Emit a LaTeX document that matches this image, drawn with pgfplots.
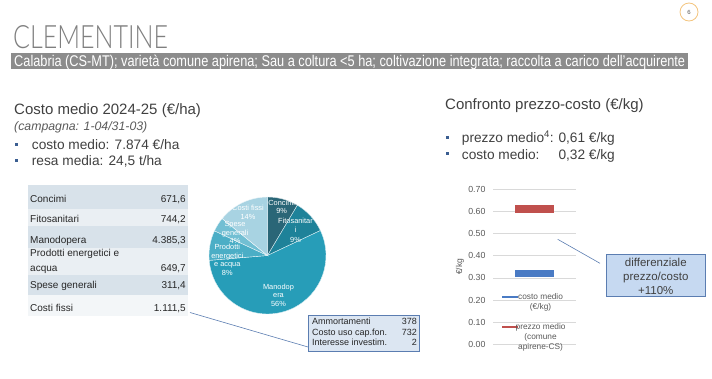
\documentclass[border=0pt]{standalone}
\usepackage{fontspec}
\setmainfont{Liberation Sans}
\newfontfamily\titlefont{Lato Light}
\usepackage{graphicx}
\usepackage{pgfplots}
\pgfplotsset{compat=1.18}
\pgfplotsset{
  blueleg/.style={legend image code/.code={\draw[##1, line width=2pt, overlay] (0pt,5pt) -- (16pt,5pt); \path[draw=none, fill=none] (0pt,-6pt) rectangle (13pt,6pt);}},
  redleg/.style={legend image code/.code={\draw[##1, line width=2pt, overlay] (0pt,10pt) -- (16pt,10pt); \path[draw=none, fill=none] (0pt,-11pt) rectangle (13pt,11pt);}},
}
\definecolor{txt}{HTML}{404040}
\definecolor{tabtxt}{HTML}{262626}
\definecolor{tick}{HTML}{595959}
\definecolor{titlec}{HTML}{7F7F7F}
\definecolor{barg}{HTML}{8C8C8C}
\definecolor{circ}{HTML}{F3C47E}
\definecolor{bulletc}{HTML}{3B5E91}
\definecolor{barblue}{HTML}{4A7BC4}
\definecolor{barred}{HTML}{C0504D}
\definecolor{rowdark}{HTML}{D8E2EA}
\definecolor{rowlight}{HTML}{EAEFF3}
\definecolor{rowlighter}{HTML}{F3F6F8}
\definecolor{pA}{HTML}{2A6677}
\definecolor{pB}{HTML}{1E8299}
\definecolor{pC}{HTML}{279DB8}
\definecolor{pD}{HTML}{4BAEC6}
\definecolor{pE}{HTML}{72BFD3}
\definecolor{pF}{HTML}{A8D3E2}
\definecolor{boxfill}{HTML}{DCE6F2}
\definecolor{boxdraw}{HTML}{5B7DB1}
\definecolor{callfill}{HTML}{C6D9F1}
\definecolor{gridc}{HTML}{D9D9D9}
\begin{document}
\begin{tikzpicture}
\useasboundingbox (0pt,0pt) rectangle (712pt,-378pt);
\begin{scope}[x=1pt,y=-1pt]
% page number
\draw[circ, line width=0.8pt] (689,12) circle[radius=9pt];
\node[font=\fontsize{6}{6}\selectfont, text=tick] at (689,12) {6};
% title
\node[anchor=base west, inner sep=0pt, text=titlec] at (13,48) {\resizebox{155pt}{23pt}{\titlefont\fontsize{30}{30}\selectfont CLEMENTINE}};
% subtitle bar
\fill[barg] (11,53) rectangle (688,69);
\node[anchor=base west, inner sep=0pt, text=white] at (14,66) {\resizebox{671pt}{\height}{\fontsize{15.5}{15.5}\selectfont Calabria (CS-MT); varietà comune apirena; Sau a coltura <5 ha; coltivazione integrata; raccolta a carico dell'acquirente}};
% left header
\node[anchor=base west, inner sep=0pt, text=txt, font=\fontsize{15}{15}\selectfont] at (14,114) {Costo medio 2024-25 (€/ha)};
\node[anchor=base west, inner sep=0pt, text=tick, font=\fontsize{12.3}{12.3}\selectfont\itshape] at (14,130) {(campagna: 1-04/31-03)};
\fill[bulletc] (15.2,143) rectangle (18.4,146.2);
\node[anchor=base west, inner sep=0pt, text=txt, font=\fontsize{13.7}{13.7}\selectfont] at (31.7,149) {costo medio: 7.874 €/ha};
\fill[bulletc] (15.2,159) rectangle (18.4,162.2);
\node[anchor=base west, inner sep=0pt, text=txt, font=\fontsize{13.7}{13.7}\selectfont] at (31.7,165) {resa media: 24,5 t/ha};
% right header
\node[anchor=base west, inner sep=0pt, text=txt, font=\fontsize{15}{15}\selectfont] at (445,109) {Confronto prezzo-costo (€/kg)};
\fill[bulletc] (446.2,135.7) rectangle (449.4,138.9);
\node[anchor=base west, inner sep=0pt, text=txt, font=\fontsize{13.7}{13.7}\selectfont] at (461.7,142.5) {prezzo medio\textsuperscript{4}:};
\node[anchor=base west, inner sep=0pt, text=txt, font=\fontsize{13.7}{13.7}\selectfont] at (558.3,142.5) {0,61 €/kg};
\fill[bulletc] (446.2,152.2) rectangle (449.4,155.4);
\node[anchor=base west, inner sep=0pt, text=txt, font=\fontsize{13.7}{13.7}\selectfont] at (461.7,159) {costo medio:};
\node[anchor=base west, inner sep=0pt, text=txt, font=\fontsize{13.7}{13.7}\selectfont] at (558.3,159) {0,32 €/kg};
% table
\fill[rowdark] (28,185) rectangle (188,209);
\fill[rowlight] (28,209) rectangle (188,226);
\fill[rowdark] (28,226) rectangle (188,248);
\fill[rowlight] (28,248) rectangle (188,275);
\fill[rowdark] (28,275) rectangle (188,295);
\fill[rowlighter] (28,295) rectangle (188,316);
\begin{scope}[every node/.style={inner sep=0pt, text=tabtxt, font=\fontsize{10}{10}\selectfont}]
\node[anchor=base west] at (30,202.7) {Concimi};
\node[anchor=base east] at (186,202.7) {671,6};
\node[anchor=base west] at (30,222.7) {Fitosanitari};
\node[anchor=base east] at (186,222.7) {744,2};
\node[anchor=base west] at (30,243.5) {Manodopera};
\node[anchor=base east] at (186,243.5) {4.385,3};
\node[anchor=base west] at (30,256.7) {Prodotti energetici e};
\node[anchor=base west] at (30,271) {acqua};
\node[anchor=base east] at (186,271) {649,7};
\node[anchor=base west] at (30,288.3) {Spese generali};
\node[anchor=base east] at (186,288.3) {311,4};
\node[anchor=base west] at (30,311) {Costi fissi};
\node[anchor=base east] at (186,311) {1.111,5};
\end{scope}
% connector and fixed-cost box
\draw[boxdraw, line width=0.6pt] (190,312.5) -- (308,347);
\draw[boxdraw, fill=boxfill, line width=0.6pt] (308,315) rectangle (419.3,351.7);
\begin{scope}[every node/.style={inner sep=0pt, text=tabtxt, font=\fontsize{9}{9}\selectfont}]
\node[anchor=base west] at (312,324.5) {Ammortamenti};
\node[anchor=base east] at (417,324.5) {378};
\node[anchor=base west] at (312,335) {Costo uso cap.fon.};
\node[anchor=base east] at (417,335) {732};
\node[anchor=base west] at (312,345.5) {Interesse investim.};
\node[anchor=base east] at (417,345.5) {2};
\end{scope}
% pie
\begin{scope}[shift={(267.5,255.5)}, x=1pt, y=1pt]
\gdef\angA{90}
\foreach \v/\c in {671.6/pA,744.2/pB,4385.3/pC,649.7/pD,311.4/pE,1111.5/pF}{
  \pgfmathsetmacro\angB{\angA-360*(\v/7873.7)}
  \fill[\c, draw=white!85!\c, line width=0.4pt] (0pt,0pt) -- (\angA:58.5pt) arc[start angle=\angA, end angle=\angB, radius=58.5pt] -- cycle;
  \global\let\angA\angB
}
\end{scope}
\begin{scope}[every node/.style={inner sep=0pt, text=white, align=center, font=\fontsize{7.4}{8.5}\selectfont}]
\node at (281.7,207) {Concimi\\9\%};
\node[font=\fontsize{7.4}{9.7}\selectfont] at (295.5,230.2) {Fitosanitar\\i\\9\%};
\node at (278.5,295.3) {Manodop\\era\\56\%};
\node at (227.3,260) {Prodotti\\energetici\\e acqua\\8\%};
\node at (235,232.5) {Spese\\generali\\4\%};
\node at (248,212.2) {Costi fissi\\14\%};
\end{scope}
% callout
\draw[boxdraw, line width=0.6pt] (557.7,239.3) -- (600,263.3);
\draw[boxdraw, fill=callfill, line width=0.6pt] (606.7,254) rectangle (705,296.7);
\node[align=center, inner sep=0pt, text=txt, font=\fontsize{11.5}{14}\selectfont] at (655.8,276) {differenziale\\prezzo/costo\\+110\%};
\end{scope}
% price-cost chart
\begin{axis}[
  at={(493pt,-344.5pt)}, anchor=south west,
  scale only axis, width=83pt, height=155.5pt,
  xmin=0, xmax=1, ymin=0, ymax=0.7,
  axis line style={draw=none},
  xtick=\empty,
  ytick={0,0.1,0.2,0.3,0.4,0.5,0.6,0.7},
  ymajorgrids, grid style={color=gridc, line width=0.6pt},
  major tick length=0pt,
  /pgf/number format/assume math mode=true,
  yticklabel style={font=\fontsize{8.8}{10}\selectfont, text=tick, xshift=-4pt,
    /pgf/number format/fixed, /pgf/number format/fixed zerofill, /pgf/number format/precision=2},
  ylabel={€/kg},
  ylabel style={font=\fontsize{8.5}{10}\selectfont, text=tick, inner sep=1pt},
  legend style={at={(axis cs:0.108,0.235)}, anchor=north west, draw=none, fill=none, inner sep=0pt,
    font=\fontsize{8.3}{10}\selectfont, text=tick, nodes={align=center, inner sep=0.5pt}, row sep=12pt},
]
\addplot[color=barblue, line width=7.8pt, blueleg]
  coordinates {(0.265,0.32) (0.735,0.32)};
\addlegendentry{costo medio\\(€/kg)}
\addplot[color=barred, line width=7.8pt, redleg]
  coordinates {(0.265,0.61) (0.735,0.61)};
\addlegendentry{prezzo medio\\(comune\\apirene-CS)}
\end{axis}
\end{tikzpicture}
\end{document}
